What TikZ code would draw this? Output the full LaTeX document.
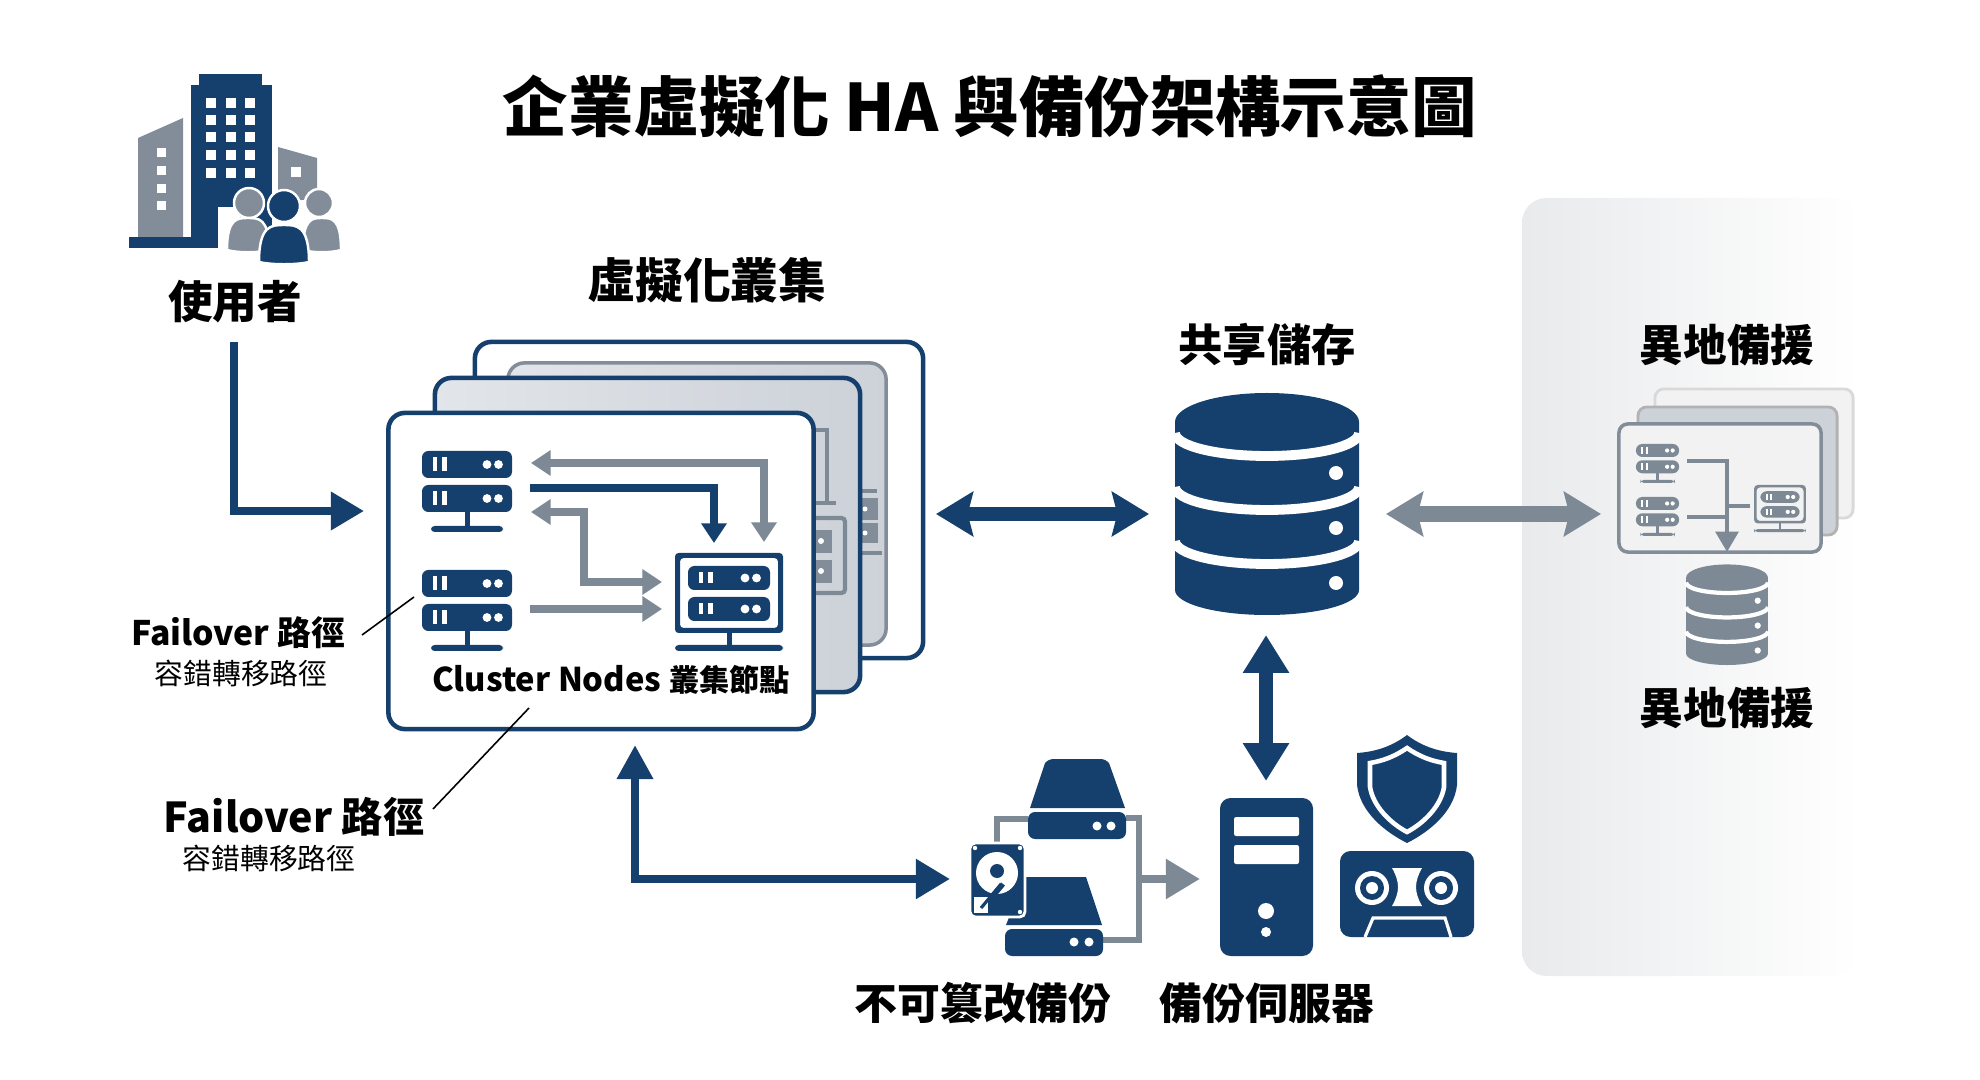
\documentclass[tikz,border=0pt]{standalone}
\usepackage{fontspec}
\setmainfont{Noto Sans CJK TC}
\usetikzlibrary{arrows.meta}

\definecolor{navyblue}{HTML}{15406D}
\definecolor{slategray}{HTML}{7D8995}
\definecolor{sidegray}{HTML}{828D99}
\definecolor{panelA}{HTML}{E2E5E9}
\definecolor{panelB}{HTML}{CDD2D9}
\definecolor{siteA}{HTML}{E9EAEC}
\definecolor{siteB}{HTML}{F3F3F4}

\newcommand{\rackunit}[4]{% colour, top, half width, height
  \fill[#1,rounded corners=1.8pt] (-#3,#2) rectangle (#3,#2+#4);
  \fill[white] (-#3+11,#2+6.5) rectangle ++(4,#4-13);
  \fill[white] (-#3+20,#2+6.5) rectangle ++(5,#4-13);
  \fill[white] (#3-25,#2+#4/2) circle (4.4);
  \fill[white] (#3-13.5,#2+#4/2) circle (4.4);
}

\tikzset{
  heading/.style={font=\bfseries\fontsize{#1}{#1}\selectfont,inner sep=0pt},
  subline/.style={font=\fontsize{8.2}{9}\selectfont,inner sep=0pt},
  card/.style={rounded corners=4.7pt,inner sep=0pt},
  navypipe/.style={navyblue,line width=#1},
  graypipe/.style={slategray,line width=#1},
  smalltip/.style={-{Triangle[length=5.6pt,width=7pt]}},
  wideback/.style={{Triangle[length=5.6pt,width=7pt]}-{Triangle[length=5.6pt,width=7pt]}},
  bigboth/.style={{Stealth[length=10.5pt,width=12.5pt,inset=1.5pt]}-{Stealth[length=10.5pt,width=12.5pt,inset=1.5pt]}},
  leader/.style={black,line width=0.45pt},
  pics/rackstack/.style={code={
    \foreach \ty in {0,34} {\rackunit{#1}{\ty}{45}{27}}
    \fill[#1] (-2.5,61) rectangle (2.5,76);
    \fill[#1,rounded corners=1pt] (-36,75) rectangle (36,81);
  }},
  pics/rackscreen/.style={code={
    \fill[#1,even odd rule,rounded corners=1pt] (-54,0) rectangle (54,80) (-49,5) rectangle (49,75);
    \rackunit{#1}{13}{41}{24}
    \rackunit{#1}{44}{41}{24}
    \fill[#1] (-2.5,80) rectangle (2.5,95);
    \fill[#1,rounded corners=1pt] (-54,92) rectangle (54,98);
  }},
  pics/dbstack/.style 2 args={code={
    \fill[#1] (-92,-81.5) arc (180:360:92 and 29) -- (92,86.5) arc (0:180:92 and 25) -- cycle;
    \foreach \gy in {-70.5,-16.5,37.5} {
      \draw[white,line width=#2] (-92,\gy) arc (180:0:92 and 23);
    }
    \foreach \gy in {-30.5,24.5,79.5} {
      \fill[white] (69,\gy) circle (7);
    }
  }},
}

\begin{document}
\begin{tikzpicture}[x=0.01cm,y=-0.01cm]
  \useasboundingbox (0,0) rectangle (1980,1080);

  % Remote site background
  \shade[left color=siteA,middle color=siteB,right color=white,rounded corners=7pt]
    (1522,198) rectangle (1860,976);

  % Titles
  \node[heading=18.6] (titletxt) at (990,107) {企業虛擬化 HA 與備份架構示意圖};
  \node[heading=12.7] (usertxt) at (235,302) {使用者};
  \node[heading=13.6] (clustertxt) at (707,280) {虛擬化叢集};
  \node[heading=12.6] (storetxt) at (1267,345) {共享儲存};
  \node[heading=12.4] (remotetxt) at (1727,345) {異地備援};
  \node[heading=12.4] (remotedbtxt) at (1727,708) {異地備援};
  \node[heading=12.2] (immutabletxt) at (983,1003) {不可篡改備份};
  \node[heading=12.2] (bkservertxt) at (1267,1003) {備份伺服器};

  % Building
  \fill[sidegray] (138,138) -- (183,118) -- (183,237) -- (138,237) -- cycle;
  \fill[sidegray] (278,147) -- (317,158) -- (317,200) -- (278,200) -- cycle;
  \fill[navyblue] (199,74) rectangle (262,85);
  \fill[navyblue] (191,85) rectangle (272,237);
  \fill[navyblue] (129,237) rectangle (221,248);
  \fill[white] (218,207) rectangle (240,250);
  \foreach \wx in {211,231,250} {
    \foreach \wy in {103,120,137,155,173} {
      \fill[white] (\wx-5,\wy-5) rectangle ++(10,10);
    }
  }
  \foreach \wy in {153,171,189,206} {
    \fill[white] (161-4.5,\wy-4.5) rectangle ++(9,9);
  }
  \fill[white] (291,167) rectangle ++(10,10);

  % People
  \foreach \cx/\hx/\hy/\hr/\bw/\ty/\by/\col in {248/249/203/15/21/218/250/sidegray,322/319/203/14/19/218/250/sidegray,284/284/206/16/25/225/262/navyblue} {
    \filldraw[fill=\col,draw=white,line width=0.7pt] (\hx,\hy) circle (\hr);
    \filldraw[fill=\col,draw=white,line width=0.7pt] (\cx-\bw,\by) .. controls (\cx-\bw,\ty) and (\cx-\bw/2,\ty) .. (\cx,\ty)
      .. controls (\cx+\bw/2,\ty) and (\cx+\bw,\ty) .. (\cx+\bw,\by)
      .. controls (\cx+\bw/2,\by+3) and (\cx-\bw/2,\by+3) .. cycle;
  }

  % Cluster cards, back to front
  \node[card,draw=navyblue,line width=1.3pt,fill=white,minimum width=4.48cm,minimum height=3.16cm] (backcard) at (699,500) {};
  \node[card,draw=sidegray,line width=1pt,left color=panelA,right color=panelB,minimum width=3.78cm,minimum height=2.82cm] (innercard) at (697,504) {};
  \fill[sidegray] (850,498) rectangle (878,520);
  \fill[sidegray] (850,523) rectangle (878,543);
  \draw[graypipe=1pt] (850,491) -- (877,491);
  \draw[graypipe=1pt] (850,553) -- (882,553);
  \fill[white] (865,509) circle (2.5);
  \fill[white] (865,533) circle (2.5);

  \node[card,draw=navyblue,line width=1.3pt,left color=panelA,right color=panelB,minimum width=4.25cm,minimum height=3.14cm] (midcard) at (647.5,535) {};
  \draw[graypipe=1.2pt] (800,430) -- (827,430) -- (827,503);
  \draw[graypipe=1.2pt] (800,503) -- (836,503);
  \draw[graypipe=1.2pt,rounded corners=1pt] (790,518) rectangle (845,593);
  \fill[sidegray] (790,530) rectangle (832,553);
  \fill[sidegray] (790,560) rectangle (832,583);
  \fill[white] (821,541) circle (3);
  \fill[white] (821,571) circle (3);

  \node[card,draw=navyblue,line width=1.3pt,fill=white,minimum width=4.25cm,minimum height=3.16cm] (frontcard) at (601,571) {};

  % Servers in the front card
  \pic at (467,451) {rackstack=navyblue};
  \pic at (467,570) {rackstack=navyblue};
  \pic at (729,553) {rackscreen=navyblue};

  % Links between servers
  \coordinate (upperback) at (531,463);
  \coordinate (uppertarget) at (764,542);
  \coordinate (upperout) at (530,488);
  \coordinate (maintarget) at (714,543);
  \coordinate (lowerback) at (531,512);
  \coordinate (sidetarget) at (662,582);
  \coordinate (lowerout) at (530,609);
  \coordinate (lowertarget) at (662,609);
  \draw[graypipe=2pt,wideback] (upperback) -| (uppertarget);
  \draw[navypipe=2pt,smalltip] (upperout) -| (maintarget);
  \draw[graypipe=2pt,wideback] (lowerback) -- (584,512) |- (sidetarget);
  \draw[graypipe=2pt,smalltip] (lowerout) -- (lowertarget);
  \node[inner sep=0pt] (nodestxt) at (611,680) {\bfseries\fontsize{9.3}{12}\selectfont Cluster Nodes {\fontsize{8.6}{12}\selectfont 叢集節點}};

  % Failover labels
  \node[heading=9.6] (foverA) at (238,633) {Failover 路徑};
  \node[subline] (foverAsub) at (241,673) {容錯轉移路徑};
  \node[heading=11.7] (foverB) at (294,817) {Failover 路徑};
  \node[subline] (foverBsub) at (269,858) {容錯轉移路徑};
  \coordinate (leadAfrom) at (362,635);
  \coordinate (leadAto) at (414,597);
  \coordinate (leadBfrom) at (433,809);
  \coordinate (leadBto) at (529,708);
  \draw[leader] (leadAfrom) -- (leadAto);
  \draw[leader] (leadBfrom) -- (leadBto);

  % Shared storage
  \pic at (1267,503.5) {dbstack={navyblue}{2.8pt}};

  % Remote site
  \node[card,draw=black!15,line width=0.8pt,fill=black!5,minimum width=1.98cm,minimum height=1.29cm,rounded corners=2.5pt] (remoteback) at (1754,453.5) {};
  \node[card,draw=black!30,line width=0.8pt,fill=panelB,minimum width=1.99cm,minimum height=1.28cm,rounded corners=2.5pt] (remotemid) at (1737.5,471) {};
  \node[card,draw=sidegray,line width=1pt,fill=black!5,minimum width=2.02cm,minimum height=1.28cm,rounded corners=2.5pt] (remotefront) at (1720,488) {};
  \pic[scale=0.48] at (1657.5,444) {rackstack=slategray};
  \pic[scale=0.48] at (1657.5,497) {rackstack=slategray};
  \pic[scale=0.48] at (1780,485) {rackscreen=slategray};
  \coordinate (remoteA) at (1687,461);
  \coordinate (remoteB) at (1687,517);
  \coordinate (remoteC) at (1750,506);
  \coordinate (remotejoin) at (1727,506);
  \coordinate (remotelow) at (1727,517);
  \coordinate (remotedb) at (1727,552);
  \draw[graypipe=1.3pt,-{Triangle[length=5.8pt,width=6.4pt]}] (remoteA) -| (remotedb);
  \draw[graypipe=0.9pt] (remoteB) -- (remotelow);
  \draw[graypipe=0.9pt] (remoteC) -- (remotejoin);
  \pic[xscale=0.445,yscale=0.453] at (1727,614.5) {dbstack={slategray}{1.2pt}};

  % Main arrows
  \coordinate (userout) at (234,342);
  \coordinate (userin) at (364,511);
  \coordinate (cardright) at (936,514);
  \coordinate (dbleft) at (1149,514);
  \coordinate (dbright) at (1386,514);
  \coordinate (remoteleft) at (1601,514);
  \coordinate (dbbottom) at (1266,635);
  \coordinate (servertop) at (1266,781);
  \coordinate (cardbottom) at (635,745);
  \coordinate (diskleft) at (950,879);
  \draw[navypipe=2.3pt,-{Triangle[length=9.4pt,width=10.4pt]}] (userout) |- (userin);
  \draw[navypipe=4pt,bigboth] (cardright) -- (dbleft);
  \draw[graypipe=4.3pt,bigboth] (dbright) -- (remoteleft);
  \draw[navypipe=3.8pt,{Triangle[length=10.8pt,width=12.5pt]}-{Triangle[length=10.8pt,width=12.5pt]}] (dbbottom) -- (servertop);
  \draw[navypipe=2.4pt,{Triangle[length=9.7pt,width=9.8pt]}-{Triangle[length=9.7pt,width=10.8pt]}] (cardbottom) |- (diskleft);

  % Immutable backup disks
  \coordinate (disktop) at (1028,819);
  \coordinate (hddtop) at (997,843);
  \coordinate (topright) at (1126,818);
  \coordinate (lowright) at (1103,940);
  \coordinate (serverleft) at (1200,879);
  \coordinate (diskjoin) at (1139,879);
  \draw[graypipe=1.7pt] (hddtop) |- (disktop);
  \draw[graypipe=1.7pt] (topright) -- (1139,818) |- (lowright);
  \draw[graypipe=2.4pt,-{Triangle[length=9.7pt,width=10.8pt]}] (diskjoin) -- (serverleft);
  \fill[navyblue] (1030,808) -- (1045,763) [rounded corners=1.5pt] -- (1048,759) -- (1106,759) [sharp corners] -- (1109,763) -- (1125,808) -- cycle;
  \fill[navyblue,rounded corners=2pt] (1028,812) rectangle (1126,839);
  \fill[navyblue] (1006,925) -- (1025,877) -- (1086,877) -- (1102,925) -- cycle;
  \fill[navyblue,rounded corners=2pt] (1005,929) rectangle (1103,956);
  \foreach \dx/\dy in {1097/826,1111/826,1074/942,1089/942} {
    \fill[white] (\dx,\dy) circle (4.5);
  }
  \filldraw[fill=navyblue,draw=white,line width=0.8pt,rounded corners=1.5pt] (970,843) rectangle (1025,917);
  \fill[white] (997,873) circle (21);
  \fill[navyblue] (997,871) circle (7);
  \draw[navyblue,line width=1.4pt] (1003,884) -- (985,906);
  \fill[white] (974,897) rectangle (988,913);
  \draw[navyblue,line width=0.9pt] (1001,884) -- (981,908);
  \foreach \dx/\dy in {975/848,1020/848,1020/912} {
    \fill[white] (\dx,\dy) circle (2.2);
  }

  % Backup server
  \fill[navyblue,rounded corners=3pt] (1220,798) rectangle (1313,956);
  \fill[white,rounded corners=0.6pt] (1234,817) rectangle (1299,836);
  \fill[white,rounded corners=0.6pt] (1234,845) rectangle (1299,864);
  \fill[white] (1266,911) circle (8);
  \fill[white] (1266,932) circle (5);

  % Shield
  \fill[navyblue] (1407,735) .. controls (1390,748) and (1372,752) .. (1357,753) -- (1357,785)
    .. controls (1360,812) and (1385,832) .. (1407,843)
    .. controls (1429,832) and (1454,812) .. (1457,785) -- (1457,753)
    .. controls (1442,752) and (1424,748) .. (1407,735) -- cycle;
  \draw[white,line width=1.3pt] (1407,748) .. controls (1394,757) and (1382,761) .. (1370,763) -- (1370,787)
    .. controls (1373,806) and (1390,823) .. (1407,832)
    .. controls (1424,823) and (1441,806) .. (1444,787) -- (1444,763)
    .. controls (1432,761) and (1420,757) .. (1407,748) -- cycle;

  % Tape
  \fill[navyblue,rounded corners=3pt] (1340,851) rectangle (1474,937);
  \foreach \rx in {1372,1441} {
    \fill[white] (\rx,888) circle (17);
    \fill[navyblue] (\rx,888) circle (12);
    \fill[white] (\rx,888) circle (6);
  }
  \fill[white] (1392,868) .. controls (1400,882) and (1400,892) .. (1392,906) -- (1422,906)
    .. controls (1414,892) and (1414,882) .. (1422,868) -- cycle;
  \draw[white,line width=0.9pt] (1365,937) -- (1373,918) -- (1445,918) -- (1451,937);
\end{tikzpicture}
\end{document}
